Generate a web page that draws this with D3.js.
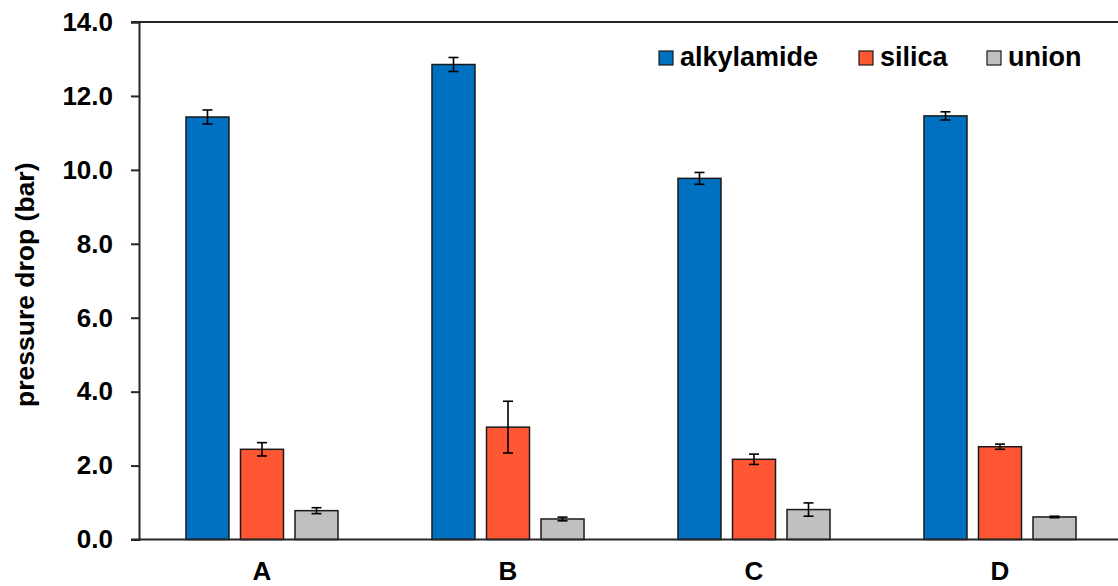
<!DOCTYPE html>
<html>
<head>
<meta charset="utf-8">
<script src="https://cdn.jsdelivr.net/npm/d3@7"></script>
<style>
  html, body { margin: 0; padding: 0; background: #fff; }
  svg { display: block; font-family: "Liberation Sans", Arial, sans-serif; font-weight: bold; }
</style>
</head>
<body>
<svg id="chart" width="1118" height="586"></svg>
<script>
// Column groups and series
const categories = ["A", "B", "C", "D"];
const seriesNames = ["alkylamide", "silica", "union"];
const seriesColors = ["#0070C0", "#FF5733", "#C0C0C0"];

// Mean pressure drop (bar) per series, in category order
const alkylamide = [11.43, 12.85, 9.77, 11.46];
const silica     = [2.44, 3.04, 2.17, 2.51];
const union      = [0.78, 0.555, 0.81, 0.61];

// Standard deviations
const alkylamideErr = [0.19, 0.19, 0.16, 0.11];
const silicaErr     = [0.18, 0.70, 0.14, 0.07];
const unionErr      = [0.08, 0.05, 0.18, 0.02];

const yTicks = [0, 2, 4, 6, 8, 10, 12, 14];

const means = [alkylamide, silica, union];
const errs = [alkylamideErr, silicaErr, unionErr];

const rows = [];
categories.forEach((c, ci) => {
  seriesNames.forEach((s, si) => {
    rows.push({ cat: c, series: s, value: means[si][ci], err: errs[si][ci], color: seriesColors[si] });
  });
});

const svg = d3.select("#chart");
const plotLeft = 139, plotTop = 22, plotBottom = 539.5, plotRight = 1123;

const y = d3.scaleLinear().domain([0, 14]).range([plotBottom, plotTop]);
const x0 = d3.scaleBand().domain(categories).range([plotLeft, plotRight]).padding(0);
const x1 = d3.scaleBand().domain(seriesNames).range([0, x0.bandwidth()])
  .paddingInner(0.211).paddingOuter(0.862);

const axisColor = "#262626";

// Top frame line
svg.append("line")
  .attr("x1", plotLeft - 8).attr("x2", 1118)
  .attr("y1", y(14)).attr("y2", y(14))
  .attr("stroke", axisColor).attr("stroke-width", 2);

// Bars
svg.append("g").selectAll("rect").data(rows).join("rect")
  .attr("x", d => x0(d.cat) + x1(d.series))
  .attr("y", d => y(d.value))
  .attr("width", x1.bandwidth())
  .attr("height", d => y(0) - y(d.value))
  .attr("fill", d => d.color)
  .attr("stroke", "#1a1a1a")
  .attr("stroke-width", 1.5);

// Error bars
const eb = svg.append("g").attr("stroke", "#000").attr("stroke-width", 1.6);
rows.forEach(d => {
  const cx = x0(d.cat) + x1(d.series) + x1.bandwidth() / 2;
  const y1 = y(d.value + d.err), y2 = y(d.value - d.err);
  eb.append("line").attr("x1", cx).attr("x2", cx).attr("y1", y1).attr("y2", y2);
  eb.append("line").attr("x1", cx - 5).attr("x2", cx + 5).attr("y1", y1).attr("y2", y1);
  eb.append("line").attr("x1", cx - 5).attr("x2", cx + 5).attr("y1", y2).attr("y2", y2);
});

// Y axis
const yAxis = d3.axisLeft(y).tickValues(yTicks).tickFormat(d3.format(".1f")).tickSizeOuter(0).tickSize(8).tickPadding(18);
const gy = svg.append("g").attr("transform", `translate(${plotLeft},0)`).call(yAxis);
gy.select(".domain").attr("stroke", axisColor).attr("stroke-width", 2);
gy.selectAll(".tick line").attr("stroke", axisColor).attr("stroke-width", 2);
gy.selectAll(".tick text").attr("fill", "#000").style("font-size", "26px").style("font-weight", "bold")
  .style("font-family", '"Liberation Sans", Arial, sans-serif');

// X axis baseline
svg.append("line")
  .attr("x1", plotLeft - 8).attr("x2", 1118)
  .attr("y1", y(0)).attr("y2", y(0))
  .attr("stroke", axisColor).attr("stroke-width", 2);

// Category labels
svg.append("g").selectAll("text").data(categories).join("text")
  .attr("x", d => x0(d) + x0.bandwidth() / 2)
  .attr("y", 580)
  .attr("text-anchor", "middle")
  .style("font-size", "26px")
  .text(d => d);

// Y axis title
svg.append("text")
  .attr("transform", `translate(34,${(plotTop + plotBottom) / 2 + 4}) rotate(-90)`)
  .attr("text-anchor", "middle")
  .style("font-size", "26.5px")
  .text("pressure drop (bar)");

// Legend
const legendX = [659, 859, 987];
const lg = svg.append("g");
seriesNames.forEach((s, i) => {
  lg.append("rect").attr("x", legendX[i]).attr("y", 51).attr("width", 14).attr("height", 14)
    .attr("fill", seriesColors[i]).attr("stroke", "#1a1a1a").attr("stroke-width", 1.2);
  lg.append("text").attr("x", legendX[i] + 21).attr("y", 66)
    .style("font-size", "27px").text(s);
});
</script>
</body>
</html>
